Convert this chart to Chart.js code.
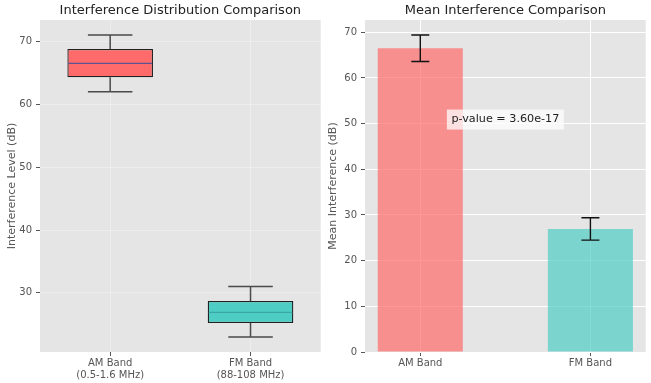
<!DOCTYPE html>
<html>
<head>
<meta charset="utf-8">
<script src="https://cdn.jsdelivr.net/npm/chart.js@4.4.1/dist/chart.umd.min.js"></script>
<style>
  html, body { margin: 0; padding: 0; background: #ffffff; }
  #wrap { position: relative; width: 651px; height: 383px; }
  #left { position: absolute; left: 0; top: 0; }
  #right { position: absolute; left: 325px; top: 0; }
</style>
</head>
<body>
<div id="wrap">
  <canvas id="left" width="325" height="383"></canvas>
  <canvas id="right" width="326" height="383"></canvas>
</div>
<script>
// ---- Data ----
const boxCategories = [["AM Band", "(0.5-1.6 MHz)"], ["FM Band", "(88-108 MHz)"]];
const barCategories = ["AM Band", "FM Band"];
const whiskerLow  = [62.0, 23.0];
const quartile1   = [64.3, 25.2];
const medians     = [66.5, 26.9];
const quartile3   = [68.8, 28.7];
const whiskerHigh = [71.0, 31.0];
const meanValues  = [66.5, 26.95];
const errorValues = [2.9, 2.45];
const leftTickValues  = [30, 40, 50, 60, 70];
const rightTickValues = [0, 10, 20, 30, 40, 50, 60, 70];
const pValueLabel = "p-value = 3.60e-17";

const FONT = "DejaVu Sans";
const boxFill = ["#FF6B6B", "#4ECDC4"];
const medianColors = ["#5e5290", "#3aa6a8"];
const barFill = ["rgba(255,107,107,0.7)", "rgba(78,205,196,0.7)"];

const bgPlugin = {
  id: 'plotBg',
  beforeDraw(chart) {
    const { ctx, chartArea: a } = chart;
    ctx.save();
    ctx.fillStyle = '#e5e5e5';
    ctx.fillRect(a.left, a.top, a.width, a.height);
    ctx.restore();
  }
};

const boxPlugin = {
  id: 'boxWhiskers',
  afterDatasetsDraw(chart) {
    const { ctx } = chart;
    const y = chart.scales.y;
    const meta = chart.getDatasetMeta(0);
    ctx.save();
    meta.data.forEach((bar, i) => {
      const x = bar.x;
      const half = bar.width / 2;
      const capHalf = half * 0.52;
      const yq1 = y.getPixelForValue(quartile1[i]);
      const yq3 = y.getPixelForValue(quartile3[i]);
      const ylo = y.getPixelForValue(whiskerLow[i]);
      const yhi = y.getPixelForValue(whiskerHigh[i]);
      const ymed = y.getPixelForValue(medians[i]);
      ctx.strokeStyle = '#4a4a4a';
      ctx.lineWidth = 1.5;
      ctx.beginPath();
      ctx.moveTo(x, yq3); ctx.lineTo(x, yhi);
      ctx.moveTo(x, yq1); ctx.lineTo(x, ylo);
      ctx.moveTo(x - capHalf, yhi); ctx.lineTo(x + capHalf, yhi);
      ctx.moveTo(x - capHalf, ylo); ctx.lineTo(x + capHalf, ylo);
      ctx.stroke();
      ctx.strokeStyle = medianColors[i];
      ctx.lineWidth = 1.2;
      ctx.beginPath();
      ctx.moveTo(x - half + 1, ymed); ctx.lineTo(x + half - 1, ymed);
      ctx.stroke();
    });
    ctx.restore();
  }
};

const errPlugin = {
  id: 'errorBars',
  afterDatasetsDraw(chart) {
    const { ctx } = chart;
    const y = chart.scales.y;
    const meta = chart.getDatasetMeta(0);
    ctx.save();
    ctx.strokeStyle = '#111111';
    ctx.lineWidth = 1.4;
    meta.data.forEach((bar, i) => {
      const x = bar.x;
      const cap = 9;
      const yt = y.getPixelForValue(meanValues[i] + errorValues[i]);
      const yb = y.getPixelForValue(meanValues[i] - errorValues[i]);
      ctx.beginPath();
      ctx.moveTo(x, yt); ctx.lineTo(x, yb);
      ctx.moveTo(x - cap, yt); ctx.lineTo(x + cap, yt);
      ctx.moveTo(x - cap, yb); ctx.lineTo(x + cap, yb);
      ctx.stroke();
    });
    ctx.restore();
  }
};

const pPlugin = {
  id: 'pValue',
  afterDraw(chart, args, opts) {
    const { ctx } = chart;
    const x = chart.scales.x.getPixelForValue(opts.xValue);
    const y = chart.scales.y.getPixelForValue(opts.yValue);
    ctx.save();
    ctx.font = '11.2px "' + FONT + '"';
    const w = ctx.measureText(opts.text).width;
    ctx.fillStyle = 'rgba(255,255,255,0.72)';
    ctx.fillRect(x - w / 2 - 4.5, y - 10, w + 9, 20);
    ctx.fillStyle = '#222222';
    ctx.textAlign = 'center';
    ctx.textBaseline = 'middle';
    ctx.fillText(opts.text, x, y);
    ctx.restore();
  }
};

function yScale(min, max, tickValues, title, titlePad, gridColor) {
  return {
    type: 'linear', min: min, max: max,
    afterBuildTicks(s) { s.ticks = tickValues.map(v => ({ value: v })); },
    afterFit(s) { s.width = 40; },
    grid: { color: gridColor, lineWidth: 1, tickColor: '#555555', tickLength: 4, drawTicks: true },
    border: { display: false },
    ticks: { color: '#555555', font: { family: FONT, size: 10 }, padding: 4 },
    title: { display: true, text: title, color: '#555555', font: { family: FONT, size: 11 }, padding: { top: titlePad, bottom: 0 } }
  };
}

function xScale(min, max, labels, gridColor) {
  return {
    type: 'linear', min: min, max: max, offset: false,
    afterBuildTicks(s) { s.ticks = labels.map((l, i) => ({ value: i })); },
    afterFit(s) { s.height = 31; },
    grid: { color: gridColor, lineWidth: 1, tickColor: '#555555', tickLength: 4, offset: false },
    border: { display: false },
    ticks: { color: '#555555', font: { family: FONT, size: 10, lineHeight: 1.15 }, padding: 2, maxRotation: 0,
      callback: (v) => labels[v] }
  };
}

function titleOpts(text) {
  return { display: true, text: text, fullSize: false, color: '#222222',
    font: { family: FONT, size: 13, weight: 'normal', lineHeight: 1.2 }, padding: { top: 2.4, bottom: 2 } };
}

new Chart(document.getElementById('left'), {
  type: 'bar',
  data: {
    datasets: [{
      data: boxCategories.map((c, i) => ({ x: i, y: [quartile1[i], quartile3[i]] })),
      backgroundColor: boxFill,
      borderColor: '#222222',
      borderWidth: 1.3,
      borderSkipped: false,
      categoryPercentage: 1.0,
      barPercentage: 0.61
    }]
  },
  options: {
    responsive: false, animation: false, devicePixelRatio: 1,
    layout: { padding: { left: 0, right: 4.3, top: 0, bottom: 0 } },
    plugins: { legend: { display: false }, tooltip: { enabled: false }, title: titleOpts('Interference Distribution Comparison') },
    scales: {
      x: xScale(-0.5, 1.5, boxCategories, 'rgba(255,255,255,0.3)'),
      y: yScale(20.6, 73.4, leftTickValues, 'Interference Level (dB)', 6, 'rgba(255,255,255,0.3)')
    }
  },
  plugins: [bgPlugin, boxPlugin]
});

new Chart(document.getElementById('right'), {
  type: 'bar',
  data: {
    datasets: [{
      data: barCategories.map((c, i) => ({ x: i, y: meanValues[i] })),
      backgroundColor: barFill,
      borderWidth: 0,
      categoryPercentage: 1.0,
      barPercentage: 0.5
    }]
  },
  options: {
    responsive: false, animation: false, devicePixelRatio: 1,
    layout: { padding: { left: 0, right: 5.3, top: 0, bottom: 0 } },
    plugins: { legend: { display: false }, tooltip: { enabled: false }, title: titleOpts('Mean Interference Comparison'),
      pValue: { text: pValueLabel, xValue: 0.5, yValue: 50.9 } },
    scales: {
      x: xScale(-0.325, 1.325, barCategories, '#ffffff'),
      y: yScale(0, 72.7, rightTickValues, 'Mean Interference (dB)', 2, '#ffffff')
    }
  },
  plugins: [bgPlugin, errPlugin, pPlugin]
});
</script>
</body>
</html>
